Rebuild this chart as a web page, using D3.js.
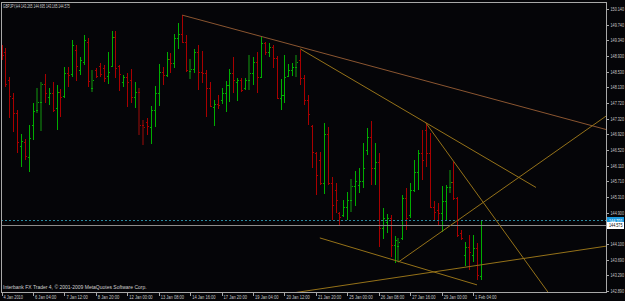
<!DOCTYPE html>
<html>
<head>
<meta charset="utf-8">
<script src="https://cdn.jsdelivr.net/npm/d3@7"></script>
<style>
html, body { margin: 0; padding: 0; background: #050508; overflow: hidden; }
svg { display: block; }
text { font-family: "Liberation Sans", Arial, sans-serif; }
</style>
</head>
<body>
<div id="chart"></div>
<script>
var titleText = 'GBPJPY,H4 143.265 144.695 143.165 144.575'
var copyrightText = 'Interbank FX Trader 4, \u00a9 2001-2009 MetaQuotes Software Corp.'

// H4 bars, index 0 = 4 Jan 2010 00:00
var opens = [
  149.17,149.04,148.32,147.85,147.47,146.62,146.72,146.34,147.16,147.55,
  147.75,148.22,147.88,147.98,147.60,148.01,147.91,148.50,148.47,149.09,
  148.58,148.78,149.30,148.11,148.58,148.68,148.63,148.42,148.68,149.43,
  148.68,148.27,148.40,148.32,147.88,148.01,147.16,147.24,147.11,147.55,
  147.98,148.52,148.45,148.86,148.76,149.40,149.50,149.30,148.55,148.60,
  149.04,148.52,148.50,148.11,147.62,147.70,147.80,147.98,148.19,148.50,
  148.27,148.32,148.11,148.32,148.50,148.78,148.40,149.27,149.04,149.17,
  148.89,147.85,147.93,148.42,148.58,148.65,148.83,148.37,147.80,147.13,
  146.44,146.26,145.66,146.93,145.66,145.48,144.89,144.84,145.05,145.23,
  145.59,145.61,145.72,146.51,146.85,146.05,146.21,144.50,144.66,144.76,
  144.07,144.04,144.25,145.28,144.84,145.48,145.95,146.44,147.03,146.44,
  145.05,144.97,144.89,145.20,145.56,145.69,145.28,144.38,143.81,144.01,
  143.81,143.99,143.265
]
var highs = [
  149.22,149.14,148.40,147.98,147.55,146.93,146.80,147.16,147.73,148.11,
  148.27,148.47,148.11,148.27,148.19,148.09,148.65,148.65,149.35,149.22,
  148.91,149.48,149.40,148.58,148.63,148.76,148.71,149.04,149.58,149.58,
  148.71,148.45,148.50,148.60,148.27,148.11,147.29,147.34,147.65,148.16,
  148.73,148.65,149.04,149.01,149.50,149.79,149.99,149.48,148.86,149.12,
  149.22,149.07,148.58,148.27,147.80,147.93,148.11,148.29,148.60,148.91,
  148.37,148.37,148.37,148.96,148.91,149.04,149.43,149.30,149.27,149.22,
  148.94,148.34,148.96,148.73,148.76,148.96,149.09,148.45,147.93,147.16,
  146.46,146.46,147.21,147.11,145.82,145.66,144.92,145.23,145.43,145.77,
  145.97,146.05,146.70,147.08,147.26,146.70,146.44,145.02,144.87,144.84,
  144.30,144.25,145.35,145.54,145.66,146.26,146.51,147.03,147.21,146.95,
  145.19,145.15,145.59,145.61,146.00,146.21,145.30,144.45,144.14,144.32,
  144.32,144.12,144.695
]
var lows = [
  148.83,148.14,147.34,146.98,146.44,146.08,146.26,145.95,146.77,147.47,
  147.00,147.73,147.67,147.49,147.03,147.37,147.85,148.14,148.40,148.29,
  148.45,148.71,148.14,148.01,148.37,148.40,148.27,148.22,148.65,148.37,
  148.03,148.14,147.62,147.73,147.60,146.90,146.64,146.90,146.67,147.11,
  147.65,148.19,148.40,148.50,148.63,149.12,149.27,148.52,148.34,148.50,
  148.06,148.24,147.37,147.62,147.13,147.57,147.70,147.49,147.75,147.98,
  147.78,148.01,148.06,148.06,148.19,147.98,148.37,148.96,148.91,148.63,
  147.83,147.55,147.73,148.40,148.42,148.40,148.19,147.67,147.16,146.05,
  145.35,145.61,145.38,145.61,144.71,144.89,144.56,144.79,144.71,144.92,
  145.07,145.41,145.54,146.39,145.61,145.61,144.01,144.22,144.38,143.76,
  143.60,143.63,144.20,144.45,144.76,145.43,145.48,145.74,146.08,145.02,
  144.71,144.58,144.40,144.71,145.41,145.23,144.27,144.20,143.53,143.42,
  143.63,143.17,143.165
]
var closes = [
  148.96,148.22,147.91,147.47,146.72,146.75,146.36,146.82,147.52,147.75,
  148.22,147.98,147.98,147.55,148.01,147.88,148.50,148.45,149.22,148.68,
  148.83,149.35,148.29,148.32,148.42,148.47,148.37,148.52,149.43,148.63,
  148.47,148.40,148.27,147.88,148.01,147.16,147.11,147.13,147.55,147.98,
  148.52,148.45,148.86,148.76,149.40,149.50,149.30,148.58,148.60,149.04,
  148.52,148.50,148.11,147.65,147.70,147.67,147.98,148.19,148.50,148.32,
  148.32,148.06,148.32,148.50,148.78,148.40,149.27,149.04,149.17,148.89,
  147.85,147.93,148.40,148.58,148.65,148.78,148.37,147.80,147.44,146.46,
  145.87,145.66,146.93,145.66,145.10,145.23,144.79,145.05,145.23,145.59,
  145.72,145.72,146.05,146.85,146.05,146.21,144.50,144.76,144.76,144.07,
  144.20,144.14,145.28,144.76,145.48,145.95,146.44,146.26,146.44,145.05,
  144.92,144.89,145.20,145.56,145.69,145.28,144.32,144.25,144.01,143.89,
  143.99,143.29,144.575
]
var dimBars = [9, 10, 23, 35, 36, 48, 63, 75, 89, 101, 114]

var timeLabels = ['4 Jan 2010', '6 Jan 04:00', '7 Jan 12:00', '8 Jan 20:00', '12 Jan 00:00',
  '13 Jan 08:00', '14 Jan 16:00', '17 Jan 20:00', '19 Jan 04:00', '20 Jan 12:00',
  '21 Jan 20:00', '25 Jan 00:00', '26 Jan 08:00', '27 Jan 16:00', '29 Jan 00:00', '1 Feb 04:00']
var timeLabelStep = 8

var priceTicks = [150.14, 149.74, 149.34, 148.93, 148.53, 148.13, 147.72, 147.32, 146.92,
  146.52, 146.11, 145.71, 145.31, 144.90, 144.10, 143.69, 143.29, 142.89]

var askPrice = 144.701
var bidPrice = 144.575

// trend lines: [bar index, price] anchors
var trendFrom = [[46, 149.99], [76, 149.12], [108, 147.21], [101, 143.63], [81, 144.25], [74, 142.83]]
var trendTo = [[76, 149.17], [136, 145.55], [140, 142.72], [127, 145.48], [121, 143.04], [154, 144.04]]
var trendRay = [true, false, false, true, false, true]

var W = 625, H = 301
var plot = {left: 1, right: 606, top: 2, bottom: 292}

var svg = d3.select('#chart').append('svg').attr('width', W).attr('height', H)
svg.append('rect').attr('width', W).attr('height', H).attr('fill', '#050508')

var x = d3.scaleLinear().domain([0, 120]).range([1.5, 473.1])
var y = d3.scaleLinear().domain([142.89, 150.14]).range([290.7, 9.3])

svg.append('defs').append('clipPath').attr('id', 'plotclip')
  .append('rect')
  .attr('x', plot.left).attr('y', plot.top)
  .attr('width', plot.right - plot.left).attr('height', plot.bottom - plot.top)

var g = svg.append('g').attr('clip-path', 'url(#plotclip)')

var bars = opens.map((o, i) => ({i, o, h: highs[i], l: lows[i], c: closes[i], dim: dimBars.includes(i)}))
var up = d => d.c >= d.o
var col = d => up(d) ? '#00ad00' : '#a80000'
var dimCol = d => up(d) ? '#0b4f0b' : '#520808'
var bx = d => Math.round(x(d.i))

var barSel = g.selectAll('g.bar').data(bars).join('g').attr('class', 'bar')
  .attr('shape-rendering', 'crispEdges')

barSel.filter(d => d.dim).append('rect')
  .attr('x', d => bx(d) - 1)
  .attr('y', d => y(d.h))
  .attr('width', 2)
  .attr('height', d => y(d.l) - y(d.h))
  .attr('fill', dimCol)

barSel.append('line')
  .attr('x1', d => bx(d) + 0.5).attr('x2', d => bx(d) + 0.5)
  .attr('y1', d => y(d.h)).attr('y2', d => y(d.l))
  .attr('stroke', d => d.dim ? dimCol(d) : col(d))

barSel.append('line')
  .attr('x1', d => bx(d) - 1).attr('x2', d => bx(d) + 0.5)
  .attr('y1', d => Math.round(y(d.o)) + 0.5).attr('y2', d => Math.round(y(d.o)) + 0.5)
  .attr('stroke', col)

barSel.append('line')
  .attr('x1', d => bx(d) + 0.5).attr('x2', d => bx(d) + 2)
  .attr('y1', d => Math.round(y(d.c)) + 0.5).attr('y2', d => Math.round(y(d.c)) + 0.5)
  .attr('stroke', col)

// horizontal price lines
g.append('line')
  .attr('x1', plot.left).attr('x2', plot.right)
  .attr('y1', Math.round(y(askPrice)) + 0.5).attr('y2', Math.round(y(askPrice)) + 0.5)
  .attr('stroke', '#2d8aa0').attr('stroke-dasharray', '2,2')
g.append('line')
  .attr('x1', plot.left).attr('x2', plot.right)
  .attr('y1', Math.round(y(bidPrice)) + 0.5).attr('y2', Math.round(y(bidPrice)) + 0.5)
  .attr('stroke', '#8c8c8c')

// trend lines (rays run on to the price scale)
var lastIndex = x.invert(plot.right + 5)
trendFrom.forEach((a, k) => {
  var b = trendTo[k]
  var end = b
  if (trendRay[k]) {
    var slope = (b[1] - a[1]) / (b[0] - a[0])
    end = [lastIndex, a[1] + slope * (lastIndex - a[0])]
  }
  g.append('line')
    .attr('x1', x(a[0])).attr('y1', y(a[1]))
    .attr('x2', x(end[0])).attr('y2', y(end[1]))
    .attr('stroke', k === 0 ? '#8a5530' : '#957219')
})

// frame
svg.append('path')
  .attr('d', `M${plot.left + 0.5},${plot.bottom + 0.5}V${plot.top + 0.5}H${plot.right + 0.5}V${plot.bottom + 0.5}H${plot.left + 0.5}`)
  .attr('fill', 'none').attr('stroke', '#a8a8a8').attr('shape-rendering', 'crispEdges')

// small squeezed text, like the terminal's pixel font
function label(parent, str, tx, ty, width, fill) {
  var t = parent.append('text')
    .attr('font-size', 5.6).attr('fill', fill || '#c8c8c8')
    .text(str)
  var natural = t.node().getComputedTextLength()
  t.attr('transform', `translate(${tx},${ty}) scale(${width / natural},1)`)
  return t
}

// price axis
var fmt = d3.format('.3f')
var pAxis = svg.append('g')
pAxis.selectAll('line').data(priceTicks).join('line')
  .attr('x1', plot.right).attr('x2', plot.right + 3)
  .attr('y1', d => Math.round(y(d)) + 0.5).attr('y2', d => Math.round(y(d)) + 0.5)
  .attr('stroke', '#a8a8a8').attr('shape-rendering', 'crispEdges')
priceTicks.forEach(p => label(pAxis, fmt(p), plot.right + 4.5, y(p) + 2, 13.5))

// current price labels
;[[askPrice, '#1d9be0', '#ffffff'], [bidPrice, '#ffffff', '#000000']].forEach(([p, bg, fg]) => {
  svg.append('rect')
    .attr('x', plot.right + 1).attr('y', Math.round(y(p)) - 3)
    .attr('width', 17).attr('height', 7).attr('fill', bg)
  label(svg, fmt(p), plot.right + 3, y(p) + 2.2, 13.5, fg)
})

// time axis
var tAxis = svg.append('g')
tAxis.selectAll('line').data(timeLabels).join('line')
  .attr('x1', (d, k) => Math.round(x(k * timeLabelStep)) + 0.5)
  .attr('x2', (d, k) => Math.round(x(k * timeLabelStep)) + 0.5)
  .attr('y1', plot.bottom).attr('y2', plot.bottom + 4)
  .attr('stroke', '#a8a8a8').attr('shape-rendering', 'crispEdges')
timeLabels.forEach((d, k) => label(tAxis, d, x(k * timeLabelStep) + 2, 298.5, d.length * 1.95))

label(svg, titleText, 3, 8.3, 67, '#d0d0d0')
label(svg, copyrightText, 3, 289, 144, '#d0d0d0')
</script>
</body>
</html>
